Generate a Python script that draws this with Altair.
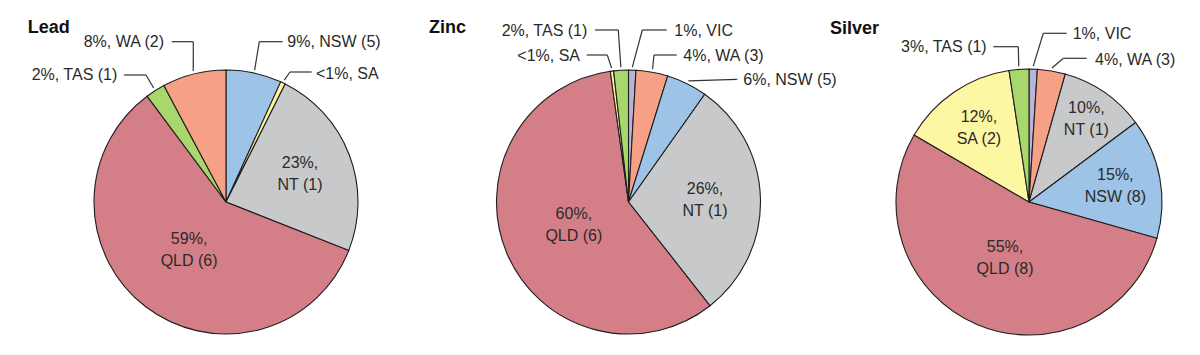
import altair as alt
import pandas as pd

# ---------------- data ----------------
minerals = ["Lead", "Zinc", "Silver"]

lead_states = ["NSW", "SA", "NT", "QLD", "TAS", "WA"]
lead_shares = [6.8, 0.6, 23.6, 58.8, 2.4, 7.8]
lead_labels = ["9%, NSW (5)", "<1%, SA", "23%,\nNT (1)", "59%,\nQLD (6)", "2%, TAS (1)", "8%, WA (2)"]

zinc_states = ["VIC", "WA", "NSW", "NT", "QLD", "SA", "TAS"]
zinc_shares = [0.9, 3.9, 5.0, 29.6, 58.4, 0.4, 1.8]
zinc_labels = ["1%, VIC", "4%, WA (3)", "6%, NSW (5)", "26%,\nNT (1)", "60%,\nQLD (6)", "<1%, SA", "2%, TAS (1)"]

silver_states = ["VIC", "WA", "NT", "NSW", "QLD", "SA", "TAS"]
silver_shares = [1.0, 3.4, 10.4, 14.6, 54.0, 14.2, 2.4]
silver_labels = ["1%, VIC", "4%, WA (3)", "10%,\nNT (1)", "15%,\nNSW (8)", "55%,\nQLD (8)", "12%,\nSA (2)", "3%, TAS (1)"]

state_domain = ["QLD", "NT", "NSW", "WA", "TAS", "SA", "VIC"]
state_colors = ["#d47f87", "#c8c9cb", "#9dc3e6", "#f6a085", "#a8d86c", "#fdf6a3", "#b8b5d9"]

# ---------------- layout (positions, not data) ----------------
W, H = 1200, 355
pie_layout = {"Lead": (226.0, 202.0, 132), "Zinc": (628.5, 202.0, 132), "Silver": (1029.0, 202.0, 133)}
title_layout = {"Lead": (27.7, 33.3), "Zinc": (429.0, 33.3), "Silver": (830.0, 34.3)}
inside_layout = {
    ("Lead", "NT"): 0.6, ("Lead", "QLD"): 0.46,
    ("Zinc", "NT"): 0.58, ("Zinc", "QLD"): 0.45,
    ("Silver", "SA"): 0.67, ("Silver", "NT"): 0.76, ("Silver", "NSW"): 0.66, ("Silver", "QLD"): 0.46,
}
# (elbow_x, line_y, line_end_x, text_x, text_baseline_y, align)
outside_layout = {
    ("Lead", "WA"): (193.3, 41.7, 171.7, 164.0, 46.7, "right"),
    ("Lead", "TAS"): (146.0, 75.0, 124.0, 117.3, 80.0, "right"),
    ("Lead", "NSW"): (259.3, 41.7, 282.7, 287.3, 46.7, "left"),
    ("Lead", "SA"): (290.0, 72.0, 311.7, 316.0, 79.0, "left"),
    ("Zinc", "TAS"): (618.3, 30.0, 595.0, 587.3, 36.0, "right"),
    ("Zinc", "SA"): (607.3, 55.0, 586.7, 580.0, 61.0, "right"),
    ("Zinc", "VIC"): (642.3, 30.0, 666.7, 674.3, 36.0, "left"),
    ("Zinc", "WA"): (654.0, 55.0, 676.7, 683.3, 61.0, "left"),
    ("Zinc", "NSW"): (736.7, 79.3, 737.5, 743.3, 85.0, "left"),
    ("Silver", "TAS"): (1018.3, 46.7, 993.3, 986.7, 51.7, "right"),
    ("Silver", "VIC"): (1043.3, 33.3, 1066.7, 1072.7, 39.0, "left"),
    ("Silver", "WA"): (1063.3, 58.3, 1086.7, 1095.0, 65.0, "left"),
}

rows = []
for m, states, shares, labels in [
    ("Lead", lead_states, lead_shares, lead_labels),
    ("Zinc", zinc_states, zinc_shares, zinc_labels),
    ("Silver", silver_states, silver_shares, silver_labels),
]:
    for i, (s, v, l) in enumerate(zip(states, shares, labels)):
        row = {"mineral": m, "state": s, "share": v, "label": l, "order": i,
               "kind": "none", "rf": 0.0, "ex": 0.0, "ey": 0.0, "lx": 0.0, "tx": 0.0, "ty": 0.0}
        if (m, s) in inside_layout:
            row["kind"] = "in"
            row["rf"] = inside_layout[(m, s)]
        elif (m, s) in outside_layout:
            ex, ey, lx, tx, ty, al = outside_layout[(m, s)]
            row.update({"kind": "out_" + al, "ex": ex, "ey": ey, "lx": lx, "tx": tx, "ty": ty})
        rows.append(row)
df = pd.DataFrame(rows)

titles_df = pd.DataFrame({
    "mineral": minerals,
    "tx": [title_layout[m][0] for m in minerals],
    "ty": [title_layout[m][1] for m in minerals],
})

FONT = "Liberation Sans"
TXT = "#2a2a2a"
LH = 22
xs = alt.Scale(domain=[0, W], range=[0, W], nice=False, zero=False)
ys = alt.Scale(domain=[0, H], range=[0, H], nice=False, zero=False)
cscale = alt.Scale(domain=state_domain, range=state_colors)

layers = []
for m in minerals:
    cx, cy, r = pie_layout[m]
    base = alt.Chart(df).transform_filter(alt.datum.mineral == m)
    arcs = base.mark_arc(outerRadius=r, stroke="#1e1e1e", strokeWidth=1.1).encode(
        theta=alt.Theta("share:Q", stack=True),
        order=alt.Order("order:Q"),
        color=alt.Color("state:N", scale=cscale, legend=None),
        x=alt.value(cx),
        y=alt.value(cy),
    )
    geo = base.transform_joinaggregate(total="sum(share)").transform_window(
        cum="sum(share)", sort=[alt.SortField("order")], frame=[None, 0]
    ).transform_calculate(
        ang="2*PI*(datum.cum - datum.share/2)/datum.total"
    ).transform_calculate(
        ix=f"{cx} + datum.rf*{r}*sin(datum.ang)",
        iy=f"{cy} - datum.rf*{r}*cos(datum.ang)",
        sx=f"{cx} + {r + 3}*sin(datum.ang)",
        sy=f"{cy} - {r + 3}*cos(datum.ang)",
    )
    inside = geo.transform_filter(alt.datum.kind == "in").mark_text(
        font=FONT, fontSize=16, color=TXT, lineBreak="\n", lineHeight=LH,
        align="center", baseline="middle", dy=-LH / 2,
    ).encode(
        x=alt.X("ix:Q", scale=xs, axis=None),
        y=alt.Y("iy:Q", scale=ys, axis=None),
        text="label:N",
    )
    outs = geo.transform_filter("indexof(datum.kind, 'out') == 0")
    seg1 = outs.mark_rule(color="#333333", strokeWidth=1.2).encode(
        x=alt.X("sx:Q", scale=xs, axis=None),
        y=alt.Y("sy:Q", scale=ys, axis=None),
        x2="ex:Q",
        y2="ey:Q",
    )
    seg2 = outs.mark_rule(color="#333333", strokeWidth=1.2).encode(
        x=alt.X("ex:Q", scale=xs, axis=None),
        y=alt.Y("ey:Q", scale=ys, axis=None),
        x2="lx:Q",
        y2="ey:Q",
    )
    layers += [arcs, inside, seg1, seg2]
    for al in ["left", "right"]:
        t = geo.transform_filter(alt.datum.kind == "out_" + al).mark_text(
            font=FONT, fontSize=16, color=TXT, align=al, baseline="alphabetic",
        ).encode(
            x=alt.X("tx:Q", scale=xs, axis=None),
            y=alt.Y("ty:Q", scale=ys, axis=None),
            text="label:N",
        )
        layers.append(t)

titles = alt.Chart(titles_df).mark_text(
    font=FONT, fontSize=18, fontWeight="bold", color="#111111", align="left", baseline="alphabetic"
).encode(
    x=alt.X("tx:Q", scale=xs, axis=None),
    y=alt.Y("ty:Q", scale=ys, axis=None),
    text="mineral:N",
)
layers.append(titles)

chart = alt.layer(*layers).properties(
    width=W, height=H, padding=0, autosize=alt.AutoSizeParams(type="none"), background="white"
).configure_view(stroke=None)

chart.save("out.html", embed_options={"renderer": "svg", "actions": False})
